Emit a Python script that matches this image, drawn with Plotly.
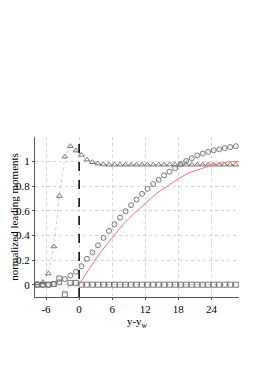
import plotly.graph_objects as go

# positions (y - y_w) of sampled points
x_pts = [k + 0.42 for k in range(-8, 29)]

triangles = [0.01, 0.02, 0.09, 0.31, 0.72, 1.04, 1.125, 1.09, 1.055, 1.016, 0.995, 0.984, 0.977,
             0.975, 0.975, 0.975, 0.975, 0.975, 0.975, 0.975, 0.975, 0.975, 0.975, 0.975, 0.975,
             0.975, 0.975, 0.975, 0.975, 0.975, 0.975, 0.975, 0.975, 0.975, 0.975, 0.975, 0.975]

circles = [0.0, 0.0, 0.0, 0.005, 0.02, 0.045, 0.075, 0.105, 0.15, 0.21, 0.262, 0.32, 0.38,
           0.437, 0.49, 0.545, 0.597, 0.646, 0.692, 0.738, 0.779, 0.818, 0.852, 0.888, 0.918,
           0.948, 0.98, 1.005, 1.028, 1.05, 1.065, 1.079, 1.092, 1.10, 1.11, 1.118, 1.125]

squares = [0.0, 0.0, 0.0, 0.005, 0.05, -0.08, 0.015, 0.015, 0.0, 0.0, 0.0, 0.0, 0.0,
           0.0, 0.0, 0.0, 0.0, 0.0, 0.0, 0.0, 0.0, 0.0, 0.0, 0.0, 0.0,
           0.0, 0.0, 0.0, 0.0, 0.0, 0.0, 0.0, 0.0, 0.0, 0.0, 0.0, 0.0]

# reference curve (red)
x_ref = [0, 2, 4, 6, 8, 10, 12, 14, 16, 18, 20, 22, 24, 26, 28, 29]
y_ref = [0.0, 0.14, 0.27, 0.38, 0.49, 0.58, 0.66, 0.74, 0.80, 0.86, 0.91, 0.94, 0.97, 0.99, 1.0, 1.0]

x_ticks = [-6, 0, 6, 12, 18, 24]
y_ticks = [0, 0.2, 0.4, 0.6, 0.8, 1]
y_tick_text = ["0", "0.2", "0.4", "0.6", "0.8", "1"]

mk_color = "#6a6a6a"
fig = go.Figure()

def add_series(y, symbol):
    fig.add_trace(go.Scatter(
        x=x_pts, y=y, mode="lines+markers",
        line=dict(color="#bbbbbb", width=0.8, dash="dot"),
        marker=dict(symbol=symbol, size=5, color=mk_color,
                    line=dict(color=mk_color, width=0.9)),
        showlegend=False, cliponaxis=True))

add_series(squares, "square-open")
add_series(circles, "circle-open")
add_series(triangles, "triangle-up-open")

fig.add_trace(go.Scatter(x=x_ref, y=y_ref, mode="lines",
                         line=dict(color="#ff7070", width=1, shape="spline"),
                         showlegend=False))

fig.add_shape(type="line", x0=0, x1=0, y0=-0.1, y1=1.2, xref="x", yref="y",
              line=dict(color="black", width=1.5, dash="dash"))

font = dict(family="Liberation Serif, Times New Roman, serif", size=11, color="black")

fig.update_layout(
    width=264, height=378,
    margin=dict(l=27, r=33, t=129, b=89, autoexpand=False),
    paper_bgcolor="white", plot_bgcolor="white",
    font=font,
    xaxis=dict(range=[-8, 29], tickvals=x_ticks, ticktext=[str(v) for v in x_ticks],
               showgrid=True, gridcolor="#d4d4d4", griddash="dot", gridwidth=1,
               zeroline=False, showline=True, linecolor="#555555", linewidth=1,
               ticks="outside", ticklen=2, tickcolor="#555555", automargin=False,
               title=dict(text="y-y<sub>w</sub>", font=font, standoff=2)),
    yaxis=dict(range=[-0.1, 1.2], tickvals=y_ticks, ticktext=y_tick_text,
               showgrid=True, gridcolor="#d4d4d4", griddash="dot", gridwidth=1,
               zeroline=False, showline=True, linecolor="#555555", linewidth=1,
               ticks="outside", ticklen=2, tickcolor="#555555", automargin=False,
               title=dict(text="normalized leading moments", font=font, standoff=4)),
)

fig.write_html("out.html")
